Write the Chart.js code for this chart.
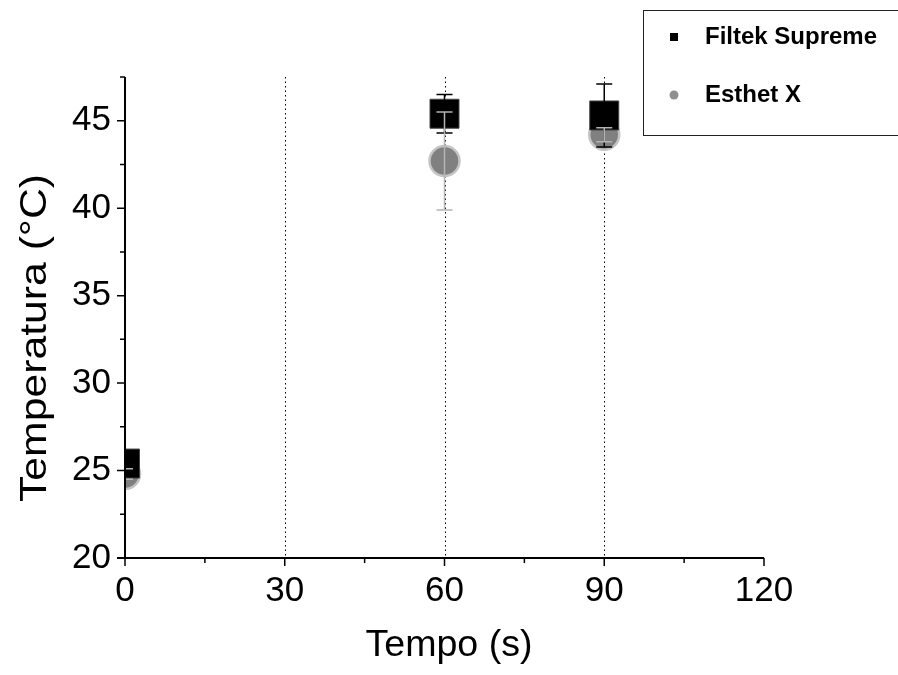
<!DOCTYPE html>
<html>
<head>
<meta charset="utf-8">
<script src="https://cdn.jsdelivr.net/npm/chart.js@4/dist/chart.umd.min.js"></script>
<style>
  html, body { margin: 0; padding: 0; background: #fff; }
  #wrap { width: 898px; height: 675px; position: relative; }
</style>
</head>
<body>
<div id="wrap"><canvas id="grafico"></canvas></div>
<script>
// tiempos (s)
var tiempos = [0, 60, 90];
// Filtek Supreme
var filtek_media = [25.4, 45.4, 45.3];
var filtek_error = [0.3, 1.1, 1.8];
// Esthet X
var esthet_media = [24.8, 42.7, 44.2];
var esthet_error = [0.3, 2.8, 0.4];

var x_ticks = [0, 30, 60, 90, 120];
var x_minor = [15, 45, 75, 105];
var y_ticks = [20, 25, 30, 35, 40, 45];
var y_minor = [22.5, 27.5, 32.5, 37.5, 42.5, 47.5];
var x_lineas = [30, 60, 90];

var fuente = "Arial, 'Liberation Sans', sans-serif";

function to_points(xs, ys) {
    var out = [];
    for (var i = 0; i < xs.length; i++) {
        out.push({x: xs[i], y: ys[i]});
    }
    return out;
}

// texto con ancho fijo (estirado)
function texto_ancho(ctx, texto, x, y, ancho) {
    var w = ctx.measureText(texto).width;
    ctx.save();
    ctx.translate(x, y);
    ctx.scale(ancho / w, 1);
    ctx.fillText(texto, 0, 0);
    ctx.restore();
}

// lineas punteadas verticales
var plugin_lineas = {
    id: 'lineas',
    beforeDatasetsDraw: function (chart) {
        var ctx = chart.ctx;
        var area = chart.chartArea;
        var xs = chart.scales.x;
        ctx.save();
        ctx.strokeStyle = '#000';
        ctx.lineWidth = 1;
        ctx.setLineDash([1.5, 3]);
        for (var i = 0; i < x_lineas.length; i++) {
            var px = Math.round(xs.getPixelForValue(x_lineas[i])) + 0.5;
            ctx.beginPath();
            ctx.moveTo(px, area.top);
            ctx.lineTo(px, area.bottom);
            ctx.stroke();
        }
        ctx.restore();
    }
};

// barras de error
var plugin_errores = {
    id: 'errores',
    afterDatasetsDraw: function (chart) {
        var ctx = chart.ctx;
        var xs = chart.scales.x;
        var ys = chart.scales.y;
        var area = chart.chartArea;
        ctx.save();
        ctx.beginPath();
        ctx.rect(area.left, area.top, area.right - area.left, area.bottom - area.top);
        ctx.clip();
        chart.data.datasets.forEach(function (ds) {
            ctx.strokeStyle = ds.errorColor;
            ctx.lineWidth = 1.5;
            for (var i = 0; i < ds.data.length; i++) {
                var px = xs.getPixelForValue(ds.data[i].x);
                var top = ys.getPixelForValue(ds.data[i].y + ds.errores[i]);
                var bot = ys.getPixelForValue(ds.data[i].y - ds.errores[i]);
                ctx.beginPath();
                ctx.moveTo(px, top);
                ctx.lineTo(px, bot);
                ctx.moveTo(px - 8, top);
                ctx.lineTo(px + 8, top);
                ctx.moveTo(px - 8, bot);
                ctx.lineTo(px + 8, bot);
                ctx.stroke();
            }
        });
        ctx.restore();
    }
};

// ejes, marcas, titulos y leyenda
var plugin_ejes = {
    id: 'ejes',
    afterDraw: function (chart) {
        var ctx = chart.ctx;
        var area = chart.chartArea;
        var xs = chart.scales.x;
        var ys = chart.scales.y;
        ctx.save();
        ctx.strokeStyle = '#000';
        ctx.lineWidth = 2;
        ctx.beginPath();
        ctx.moveTo(area.left, area.top);
        ctx.lineTo(area.left, area.bottom);
        ctx.moveTo(area.left - 8, area.bottom);
        ctx.lineTo(area.right, area.bottom);
        ctx.stroke();

        ctx.lineWidth = 1.5;
        ctx.beginPath();
        x_ticks.forEach(function (v) {
            var px = xs.getPixelForValue(v);
            ctx.moveTo(px, area.bottom);
            ctx.lineTo(px, area.bottom + 8);
        });
        x_minor.forEach(function (v) {
            var px = xs.getPixelForValue(v);
            ctx.moveTo(px, area.bottom);
            ctx.lineTo(px, area.bottom + 5);
        });
        y_ticks.forEach(function (v) {
            var py = ys.getPixelForValue(v);
            ctx.moveTo(area.left, py);
            ctx.lineTo(area.left - 8, py);
        });
        y_minor.forEach(function (v) {
            var py = ys.getPixelForValue(v);
            ctx.moveTo(area.left, py);
            ctx.lineTo(area.left - 5, py);
        });
        ctx.stroke();

        ctx.fillStyle = '#000';
        ctx.font = '37px ' + fuente;
        ctx.textAlign = 'center';
        ctx.textBaseline = 'middle';
        texto_ancho(ctx, 'Tempo (s)', 449, 646, 167);
        ctx.save();
        ctx.translate(36, 338);
        ctx.rotate(-Math.PI / 2);
        texto_ancho(ctx, 'Temperatura (°C)', 0, 0, 328);
        ctx.restore();

        // leyenda
        ctx.lineWidth = 1;
        ctx.strokeStyle = '#222';
        ctx.strokeRect(643.5, 10.5, 280, 125);
        ctx.fillStyle = '#000';
        ctx.fillRect(670, 33, 8, 8);
        ctx.fillStyle = '#909090';
        ctx.beginPath();
        ctx.arc(674, 95, 4.5, 0, Math.PI * 2);
        ctx.fill();
        ctx.fillStyle = '#000';
        ctx.font = 'bold 24px ' + fuente;
        ctx.textAlign = 'left';
        ctx.fillText('Filtek Supreme', 705, 37);
        ctx.fillText('Esthet X', 705, 95);
        ctx.restore();
    }
};

var ctx = document.getElementById('grafico');
var chart = new Chart(ctx, {
    type: 'scatter',
    data: {
        datasets: [
            {
                label: 'Filtek Supreme',
                data: to_points(tiempos, filtek_media),
                errores: filtek_error,
                errorColor: '#000',
                pointStyle: 'rect',
                pointRadius: 20.5,
                pointHoverRadius: 20.5,
                backgroundColor: '#000',
                borderColor: '#444',
                borderWidth: 1,
                clip: 0
            },
            {
                label: 'Esthet X',
                data: to_points(tiempos, esthet_media),
                errores: esthet_error,
                errorColor: '#b4b4b4',
                pointStyle: 'circle',
                pointRadius: 15,
                pointHoverRadius: 15,
                backgroundColor: '#808080',
                borderColor: '#c4c4c4',
                borderWidth: 2.5,
                clip: 0
            }
        ]
    },
    options: {
        responsive: true,
        maintainAspectRatio: false,
        animation: false,
        layout: {
            padding: {top: 77, right: 134, left: 0, bottom: 0}
        },
        scales: {
            x: {
                type: 'linear',
                min: 0,
                max: 120,
                afterFit: function (scale) { scale.height = 117; },
                afterBuildTicks: function (scale) {
                    scale.ticks = x_ticks.map(function (v) { return {value: v}; });
                },
                grid: {display: false, drawTicks: false},
                border: {display: false},
                ticks: {
                    color: '#000',
                    padding: 12,
                    maxRotation: 0,
                    font: {family: fuente, size: 35}
                }
            },
            y: {
                type: 'linear',
                min: 20,
                max: 47.5,
                afterFit: function (scale) { scale.width = 125; },
                afterBuildTicks: function (scale) {
                    scale.ticks = y_ticks.map(function (v) { return {value: v}; });
                },
                grid: {display: false, drawTicks: false},
                border: {display: false},
                ticks: {
                    color: '#000',
                    padding: 14,
                    font: {family: fuente, size: 35}
                }
            }
        },
        plugins: {
            legend: {display: false},
            tooltip: {enabled: false}
        }
    },
    plugins: [plugin_lineas, plugin_errores, plugin_ejes]
});
</script>
</body>
</html>
